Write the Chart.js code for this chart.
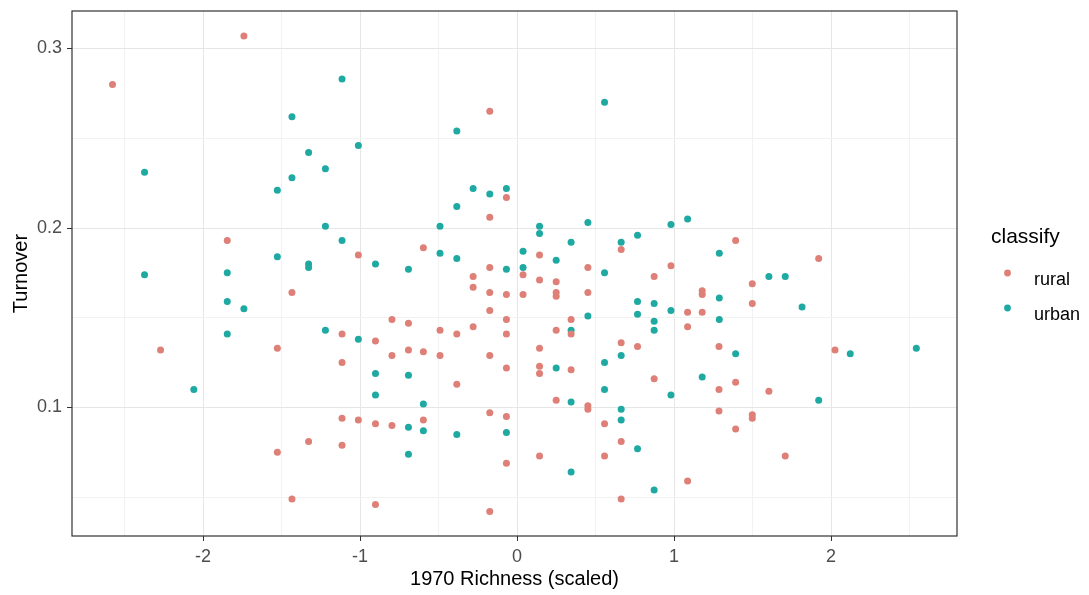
<!DOCTYPE html>
<html>
<head>
<meta charset="utf-8">
<script src="https://cdn.jsdelivr.net/npm/chart.js@4.4.0/dist/chart.umd.min.js"></script>
<style>
  html, body { margin: 0; padding: 0; background: #fff; }
  #wrap { width: 1089px; height: 595px; }
</style>
</head>
<body>
<div id="wrap"><canvas id="chart" width="1089" height="595"></canvas></div>
<script>
// ===== DATA =====
const ruralX = [-2.577, -1.740, -1.846, -1.011, -1.434, -1.115, -2.271, -1.527, -1.115, -1.115,
  -1.011, -1.328, -1.115, -1.527, -1.434, -0.174, -0.068, -0.174, -0.597, 0.143,
  0.663, -0.174, 0.451, 0.038, -0.280, 0.143, 0.249, 0.873, -0.280, -0.174,
  -0.068, 0.038, 0.249, 0.249, 0.451, -0.174, -0.797, -0.692, -0.068, 0.344,
  -0.491, -0.384, -0.280, -0.068, 0.249, 0.344, -0.902, -0.797, -0.692, -0.597,
  -0.491, -0.174, 0.143, 0.663, 0.767, 0.143, 0.143, 0.344, -0.068, -0.384,
  0.873, 0.249, 0.451, 0.451, -0.174, -0.068, -0.902, -0.797, -0.597, 0.557,
  0.663, 0.143, 0.557, -0.068, 0.663, -0.902, -0.174, 1.392, 1.921, 0.980,
  1.498, 1.179, 1.179, 1.498, 1.086, 1.179, 1.086, 1.286, 2.025, 1.392,
  1.286, 1.604, 1.286, 1.498, 1.498, 1.392, 1.708, 1.086];
const ruralY = [0.280, 0.307, 0.193, 0.185, 0.164, 0.141, 0.132, 0.133, 0.125, 0.094,
  0.093, 0.081, 0.079, 0.075, 0.049, 0.265, 0.217, 0.206, 0.189, 0.185,
  0.188, 0.178, 0.178, 0.174, 0.173, 0.171, 0.170, 0.173, 0.167, 0.164,
  0.163, 0.163, 0.164, 0.162, 0.164, 0.154, 0.149, 0.147, 0.149, 0.149,
  0.143, 0.141, 0.145, 0.141, 0.143, 0.141, 0.137, 0.129, 0.132, 0.131,
  0.129, 0.129, 0.133, 0.136, 0.134, 0.123, 0.119, 0.121, 0.122, 0.113,
  0.116, 0.104, 0.101, 0.099, 0.097, 0.095, 0.091, 0.090, 0.093, 0.091,
  0.081, 0.073, 0.073, 0.069, 0.049, 0.046, 0.042, 0.193, 0.183, 0.179,
  0.169, 0.165, 0.163, 0.158, 0.153, 0.153, 0.145, 0.134, 0.132, 0.114,
  0.110, 0.109, 0.098, 0.096, 0.094, 0.088, 0.073, 0.059];

const urbanX = [-1.115, -1.434, -1.011, -1.328, -1.221, -2.373, -1.434, -1.527, -1.221, -1.115,
  -1.527, -1.328, -1.328, -1.846, -2.373, -1.846, -1.740, -1.846, -1.221, -1.011,
  -2.059, 0.557, -0.384, -0.280, -0.174, -0.068, -0.384, -0.491, 0.143, 0.143,
  0.451, -0.491, -0.384, 0.038, 0.249, 0.344, 0.663, 0.767, -0.902, -0.692,
  -0.068, 0.038, 0.557, 0.767, 0.873, 0.767, 0.873, 0.873, 0.451, 0.344,
  0.663, 0.557, 0.249, -0.902, -0.692, -0.902, 0.557, -0.597, 0.344, 0.663,
  0.663, -0.692, -0.597, -0.384, -0.068, 0.767, -0.692, 0.344, 0.873, 0.980,
  1.086, 1.288, 1.604, 1.708, 1.288, 1.815, 0.980, 1.288, 1.392, 2.122,
  2.543, 1.179, 0.980, 1.921];
const urbanY = [0.283, 0.262, 0.246, 0.242, 0.233, 0.231, 0.228, 0.221, 0.201, 0.193,
  0.184, 0.180, 0.178, 0.175, 0.174, 0.159, 0.155, 0.141, 0.143, 0.138,
  0.110, 0.270, 0.254, 0.222, 0.219, 0.222, 0.212, 0.201, 0.201, 0.197,
  0.203, 0.186, 0.183, 0.187, 0.182, 0.192, 0.192, 0.196, 0.180, 0.177,
  0.177, 0.178, 0.175, 0.159, 0.158, 0.152, 0.148, 0.143, 0.151, 0.143,
  0.129, 0.125, 0.122, 0.119, 0.118, 0.107, 0.110, 0.102, 0.103, 0.099,
  0.093, 0.089, 0.087, 0.085, 0.086, 0.077, 0.074, 0.064, 0.054, 0.202,
  0.205, 0.186, 0.173, 0.173, 0.161, 0.156, 0.154, 0.149, 0.130, 0.130,
  0.133, 0.117, 0.107, 0.104];

const seriesNames = ["rural", "urban"];
const legendTitle = "classify";
const xTitle = "1970 Richness (scaled)";
const yTitle = "Turnover";

const xMajorTicks = [-2, -1, 0, 1, 2];
const xMinorTicks = [-2.5, -1.5, -0.5, 0.5, 1.5, 2.5];
const yMajorTicks = [0.1, 0.2, 0.3];
const yMinorTicks = [0.05, 0.15, 0.25];
const xRange = [-2.835, 2.802];
const yRange = [0.0284, 0.3209];

// ===== STYLE =====
const COLORS = { rural: "#de8077", urban: "#1fa9a3" };
const FONT = "'Liberation Sans', Arial, sans-serif";
const GRID_MAJOR = "#e6e6e6";
const GRID_MINOR = "#f2f2f2";
const AXIS_DARK = "#333333";

function zip(xs, ys) {
  return xs.map((x, i) => ({ x: x, y: ys[i] }));
}

function isIn(v, list) {
  return list.some(m => Math.abs(m - v) < 1e-9);
}

function setTicks(major, minor) {
  return scale => {
    scale.ticks = major.concat(minor).sort((a, b) => a - b).map(v => ({ value: v }));
  };
}

// panel border + legend, ggplot style
const ggExtras = {
  id: "ggExtras",
  afterDatasetsDraw(chart) {
    const { ctx, chartArea: a } = chart;
    ctx.save();
    ctx.strokeStyle = AXIS_DARK;
    ctx.lineWidth = 1.2;
    ctx.strokeRect(a.left, a.top, a.right - a.left, a.bottom - a.top);
    ctx.restore();
  },
  afterDraw(chart) {
    const ctx = chart.ctx;
    ctx.save();
    ctx.fillStyle = "#000";
    ctx.textBaseline = "alphabetic";
    ctx.font = "21px " + FONT;
    ctx.fillText(legendTitle, 991, 243);
    const keyY = [273, 308];
    seriesNames.forEach((name, i) => {
      ctx.beginPath();
      ctx.fillStyle = COLORS[name];
      ctx.arc(1007.5, keyY[i], 3.4, 0, Math.PI * 2);
      ctx.fill();
      ctx.fillStyle = "#000";
      ctx.font = "18px " + FONT;
      ctx.fillText(name, 1034, keyY[i] + 12);
    });
    ctx.restore();
  }
};

new Chart(document.getElementById("chart"), {
  type: "scatter",
  data: {
    datasets: [
      { label: seriesNames[0], data: zip(ruralX, ruralY), backgroundColor: COLORS.rural },
      { label: seriesNames[1], data: zip(urbanX, urbanY), backgroundColor: COLORS.urban }
    ]
  },
  options: {
    responsive: false,
    animation: false,
    events: [],
    layout: { padding: { left: 0, right: 132, top: 11, bottom: 0 } },
    elements: { point: { radius: 3.5, borderWidth: 0, hoverRadius: 3.5 } },
    plugins: { legend: { display: false }, tooltip: { enabled: false } },
    scales: {
      x: {
        type: "linear",
        min: xRange[0],
        max: xRange[1],
        afterBuildTicks: setTicks(xMajorTicks, xMinorTicks),
        afterFit: s => { s.height = 59; s.paddingLeft = 0; s.paddingRight = 0; },
        border: { display: false },
        grid: {
          color: c => isIn(c.tick.value, xMajorTicks) ? GRID_MAJOR : GRID_MINOR,
          tickColor: c => isIn(c.tick.value, xMajorTicks) ? AXIS_DARK : "rgba(0,0,0,0)",
          tickLength: 5,
          lineWidth: 1
        },
        ticks: {
          autoSkip: false,
          maxRotation: 0,
          padding: 5,
          color: "#4d4d4d",
          font: { family: FONT, size: 18 },
          callback: v => isIn(v, xMajorTicks) ? String(v) : ""
        },
        title: {
          display: true,
          text: xTitle,
          color: "#000",
          font: { family: FONT, size: 20 },
          padding: { top: 0, bottom: 4 }
        }
      },
      y: {
        type: "linear",
        min: yRange[0],
        max: yRange[1],
        afterBuildTicks: setTicks(yMajorTicks, yMinorTicks),
        afterFit: s => { s.width = 72; s.paddingTop = 0; s.paddingBottom = 0; },
        border: { display: false },
        grid: {
          color: c => isIn(c.tick.value, yMajorTicks) ? GRID_MAJOR : GRID_MINOR,
          tickColor: c => isIn(c.tick.value, yMajorTicks) ? AXIS_DARK : "rgba(0,0,0,0)",
          tickLength: 5,
          lineWidth: 1
        },
        ticks: {
          autoSkip: false,
          padding: 5,
          color: "#4d4d4d",
          font: { family: FONT, size: 18 },
          callback: v => isIn(v, yMajorTicks) ? String(v) : ""
        },
        title: {
          display: true,
          text: yTitle,
          color: "#000",
          font: { family: FONT, size: 20 },
          padding: { top: 9, bottom: 0 }
        }
      }
    }
  },
  plugins: [ggExtras]
});
</script>
</body>
</html>
